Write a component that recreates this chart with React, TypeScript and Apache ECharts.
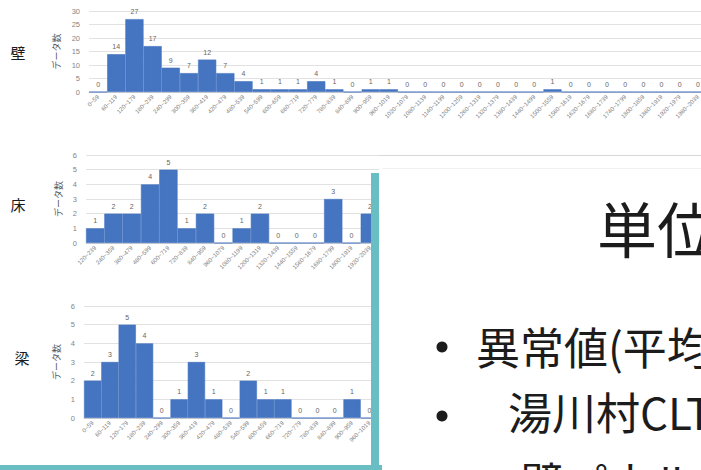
import React, { useEffect, useRef } from "react";
import * as echarts from "echarts";

// 壁 — 60-unit bins
const wallCategories = [
  "0~59", "60~119", "120~179", "180~239", "240~299", "300~359", "360~419", "420~479",
  "480~539", "540~599", "600~659", "660~719", "720~779", "780~839", "840~899", "900~959",
  "960~1019", "1020~1079", "1080~1139", "1140~1199", "1200~1259", "1260~1319", "1320~1379",
  "1380~1439", "1440~1499", "1500~1559", "1560~1619", "1620~1679", "1680~1739", "1740~1799",
  "1800~1859", "1860~1919", "1920~1979", "1980~2039",
];
const wallCounts = [
  0, 14, 27, 17, 9, 7, 12, 7, 4, 1, 1, 1, 4, 1, 0, 1, 1,
  0, 0, 0, 0, 0, 0, 0, 0, 1, 0, 0, 0, 0, 0, 0, 0, 0,
];

// 床 — 120-unit bins
const floorCategories = [
  "120~239", "240~359", "360~479", "480~599", "600~719", "720~839", "840~959", "960~1079",
  "1080~1199", "1200~1319", "1320~1439", "1440~1559", "1560~1679", "1680~1799", "1800~1919",
  "1920~2039",
];
const floorCounts = [1, 2, 2, 4, 5, 1, 2, 0, 1, 2, 0, 0, 0, 3, 0, 2];

// 梁 — 60-unit bins
const beamCategories = [
  "0~59", "60~119", "120~179", "180~239", "240~299", "300~359", "360~419", "420~479",
  "480~539", "540~599", "600~659", "660~719", "720~779", "780~839", "840~899", "900~959",
  "960~1019",
];
const beamCounts = [2, 3, 5, 4, 0, 1, 3, 1, 0, 2, 1, 1, 0, 0, 0, 1, 0];

const wallTicks = { max: 30, interval: 5 };
const smallTicks = { max: 6, interval: 1 };

const BAR = "#4574c1";
const TEAL = "#68bec3";
const INK = "#1c1c1c";
const CJK = '"Noto Sans CJK JP", "Noto Sans", sans-serif';

const grids = [
  { left: 89, top: 11, width: 618, height: 81 },
  { left: 86, top: 155, width: 293, height: 88 },
  { left: 84, top: 306, width: 294, height: 112 },
];

function xAxisFor(gridIndex: number, data: string[]) {
  return {
    type: "category" as const,
    gridIndex,
    data,
    axisTick: { show: false },
    axisLine: { lineStyle: { color: "#d0d0d0" } },
    axisLabel: {
      interval: 0,
      rotate: 45,
      fontSize: 6,
      color: "#808080",
      margin: 4,
      fontFamily: "Arial, sans-serif",
    },
  };
}

function yAxisFor(gridIndex: number, ticks: { max: number; interval: number }) {
  return {
    type: "value" as const,
    gridIndex,
    min: 0,
    max: ticks.max,
    interval: ticks.interval,
    name: "データ数",
    nameLocation: "middle" as const,
    nameRotate: 90,
    nameGap: 23,
    nameTextStyle: { fontSize: 9, color: "#555", fontFamily: CJK },
    axisLine: { show: false },
    axisTick: { show: false },
    axisLabel: { fontSize: 7.5, color: "#858585", margin: 9, fontFamily: "Arial, sans-serif" },
    splitLine: { lineStyle: { color: "#e2e2e2" } },
  };
}

function barFor(index: number, data: number[]) {
  return {
    type: "bar" as const,
    xAxisIndex: index,
    yAxisIndex: index,
    data,
    barCategoryGap: "0%",
    itemStyle: { color: BAR, borderColor: BAR, borderWidth: 0.6 },
    label: {
      show: true,
      position: "top" as const,
      distance: 4,
      fontSize: 7,
      color: "#666",
      fontFamily: "Arial, sans-serif",
    },
  };
}

const captionStyle = (text: string) => ({
  text,
  font: `15px ${CJK}`,
  fill: INK,
  align: "center",
  verticalAlign: "middle",
  textAlign: "center",
  textVerticalAlign: "middle",
});

const slideStyle = (text: string, size: number) => ({
  text,
  font: `${size}px ${CJK}`,
  fill: INK,
  align: "left",
  verticalAlign: "middle",
  textAlign: "left",
  textVerticalAlign: "middle",
});

export default function App() {
  const ref = useRef<HTMLDivElement>(null);

  useEffect(() => {
    if (!ref.current) return;
    const chart = echarts.init(ref.current, null, { renderer: "svg" });
    chart.setOption({
      animation: false,
      backgroundColor: "#ffffff",
      grid: grids,
      xAxis: [
        xAxisFor(0, wallCategories),
        xAxisFor(1, floorCategories),
        xAxisFor(2, beamCategories),
      ],
      yAxis: [yAxisFor(0, wallTicks), yAxisFor(1, smallTicks), yAxisFor(2, smallTicks)],
      series: [barFor(0, wallCounts), barFor(1, floorCounts), barFor(2, beamCounts)],
      graphic: [
        // row captions
        { type: "text", x: 18, y: 52, style: captionStyle("壁") },
        { type: "text", x: 18, y: 204, style: captionStyle("床") },
        { type: "text", x: 22, y: 357, style: captionStyle("梁") },
        // slide edge lines
        { type: "line", shape: { x1: 379, y1: 155.5, x2: 720, y2: 155.5 }, style: { stroke: "#d8d8d8", lineWidth: 1 } },
        { type: "line", shape: { x1: 383, y1: 168.5, x2: 720, y2: 168.5 }, style: { stroke: "#f0f0f0", lineWidth: 1 } },
        // teal frame
        { type: "rect", z: 100, shape: { x: 371, y: 173, width: 8, height: 297 }, style: { fill: TEAL } },
        { type: "rect", z: 100, shape: { x: 0, y: 465, width: 382, height: 5 }, style: { fill: TEAL } },
        // slide text
        { type: "text", x: 597, y: 226, style: slideStyle("単位", 60) },
        { type: "circle", shape: { cx: 442, cy: 347, r: 5.5 }, style: { fill: INK } },
        { type: "text", x: 476, y: 346, style: slideStyle("異常値(平均", 44) },
        { type: "circle", shape: { cx: 442, cy: 416, r: 5.5 }, style: { fill: INK } },
        { type: "text", x: 508, y: 411, style: slideStyle("湯川村CLT", 44) },
        { type: "text", x: 520, y: 481, style: slideStyle("壁パネルに", 44) },
      ],
    });
    return () => chart.dispose();
  }, []);

  return (
    <div
      style={{
        position: "fixed",
        left: 0,
        top: 0,
        width: 701,
        height: 470,
        overflow: "hidden",
        background: "#fff",
      }}
    >
      <div ref={ref} style={{ width: 720, height: 470 }} />
    </div>
  );
}
